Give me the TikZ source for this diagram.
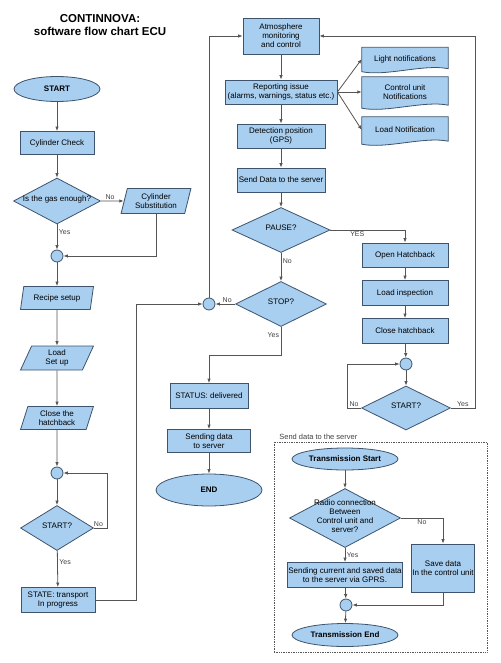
\documentclass[tikz,border=0pt]{standalone}
\usepackage{fontspec}
\setmainfont{Liberation Sans}
\usetikzlibrary{shapes.geometric, arrows.meta, backgrounds}
\definecolor{flowblue}{RGB}{168,206,240}
\definecolor{edgeblue}{RGB}{62,84,110}
\definecolor{linegray}{RGB}{85,85,85}
\newcommand{\dtext}[1]{\raisebox{-2pt}{\makebox[0pt]{\smash{\begin{tabular}{@{}c@{}}#1\end{tabular}}}}}

\tikzset{
    base/.style={draw=edgeblue, fill=flowblue, line width=.8pt, font=\fontsize{8}{9}\selectfont, align=center, inner sep=1pt},
    wh/.style 2 args={minimum width=#1pt, minimum height=#2pt},
    box/.style={base, rectangle},
    term/.style={base, ellipse, font=\fontsize{8}{9}\selectfont\bfseries},
    para/.style={base, trapezium, trapezium left angle=73, trapezium right angle=107, trapezium stretches=true, inner sep=0pt},
    dec/.style={base, diamond, inner sep=0pt},
    joint/.style={base, circle, minimum size=12pt, inner sep=0pt},
    docbox/.style={font=\fontsize{8}{9}\selectfont, align=center, inner sep=1pt},
    flow/.style={draw=linegray, line width=.8pt, -{Latex[length=4.5pt,width=3.5pt]}},
    lbl/.style={font=\fontsize{7}{8}\selectfont, text=black!75, inner sep=1.5pt},
}

\begin{document}
\begin{tikzpicture}[x=1pt, y=-1pt]
    \useasboundingbox (0,0) rectangle (500,663);

    \node[font=\fontsize{11.5}{13.5}\selectfont\bfseries, align=center] (title) at (100,25) {CONTINNOVA:\\software flow chart ECU};

    % left column
    \node[term, wh={86}{25}] (start) at (57,89) {START};
    \node[box, wh={74}{23}] (cyl) at (57,143) {Cylinder Check};
    \node[dec, wh={87}{46}] (gas) at (57,201) {\dtext{Is the gas enough?}};
    \node[para, wh={70}{25}] (subst) at (156,201) {Cylinder\\Substitution};
    \node[joint] (j1) at (57,256) {};
    \node[para, wh={73}{23}] (recipe) at (57,298) {Recipe setup};
    \node[para, wh={73}{24}] (loadset) at (57,358) {Load\\Set up};
    \node[para, wh={73}{23}] (closea) at (57,418) {Close the\\hatchback};
    \node[joint] (j2) at (57,473) {};
    \node[dec, wh={73}{45}] (starta) at (57,528) {\dtext{START?}};
    \node[box, wh={74}{25}] (state) at (58,600) {STATE: transport\\In progress};

    % middle column
    \node[joint] (j3) at (209,304) {};
    \node[box, wh={76}{36}] (atmo) at (281,36) {Atmosphere\\monitoring\\and control};
    \node[box, wh={112}{24}] (report) at (281,92) {Reporting issue\\(alarms, warnings, status etc.)};
    \node[box, wh={88}{24}] (detect) at (281,136) {Detection position\\(GPS)};
    \node[box, wh={88}{24}] (send) at (281,180) {Send Data to the server};
    \node[dec, wh={98}{45}] (pause) at (281,230) {\dtext{PAUSE?}};
    \node[dec, wh={91}{45}] (stop) at (281,304) {\dtext{STOP?}};
    \node[box, wh={78}{25}] (status) at (209,396) {STATUS: delivered};
    \node[box, wh={83}{23}] (sendsrv) at (209,441) {Sending data\\to server};
    \node[term, wh={106}{32}] (endn) at (209,490) {END};

    % notifications
    \node[docbox, wh={86}{23}] (light) at (405,59) {Light notifications};
    \node[docbox, wh={86}{30}] (ctrl) at (405,92) {Control unit\\Notifications};
    \node[docbox, wh={86}{26}] (loadn) at (405,130) {Load Notification};
    \begin{scope}[on background layer]
        \foreach \n in {light, ctrl, loadn}
            \draw[draw=edgeblue, fill=flowblue, line width=.8pt] (\n.north west) -- (\n.north east) -- ([yshift=2pt]\n.south east)
                .. controls +(-24pt,5pt) and +(24pt,-5pt) .. ([yshift=-1pt]\n.south west) -- cycle;
    \end{scope}

    % right column
    \node[box, wh={86}{24}] (openh) at (405,255) {Open Hatchback};
    \node[box, wh={86}{25}] (inspect) at (405,293) {Load inspection};
    \node[box, wh={86}{25}] (closeb) at (405,331) {Close hatchback};
    \node[joint] (j4) at (406,364) {};
    \node[dec, wh={89}{44}] (startb) at (406,408) {\dtext{START?}};

    % send data to the server
    \node[draw=linegray, densely dotted, line width=.7pt, minimum width=213pt, minimum height=210pt, inner sep=0pt] (frame) at (380.5,547) {};
    \node[lbl, font=\fontsize{7.5}{8}\selectfont, anchor=south west, xshift=4pt] (framelbl) at (frame.north west) {Send data to the server};
    \node[term, wh={106}{22}] (tstart) at (345,459) {Transmission Start};
    \node[dec, wh={111}{59}] (radio) at (345,518) {\dtext{Radio connection\\Between\\Control unit and\\server?}};
    \node[box, wh={62}{48}] (save) at (443,568) {Save data\\In the control unit};
    \node[box, wh={113}{25}] (gprs) at (345,575) {Sending current and saved data\\to the server via GPRS.};
    \node[joint] (j5) at (346,605) {};
    \node[term, wh={106}{23}] (tend) at (345,635) {Transmission End};

    % connectors, left
    \draw[flow] (start) -- (cyl);
    \draw[flow] (cyl) -- (gas);
    \draw[flow] (gas) -- node[lbl, above, pos=.4] {No} (subst);
    \draw[flow] (subst.south) |- (j1);
    \draw[flow] (gas) -- node[lbl, right, pos=.3] {Yes} (j1);
    \draw[flow] (j1) -- (recipe);
    \draw[flow] (recipe) -- (loadset);
    \draw[flow] (loadset) -- (closea);
    \draw[flow] (closea) -- (j2);
    \draw[flow] (j2) -- (starta);
    \draw[flow] (starta.east) -- node[lbl, above, pos=.35] {No} ++(13,0) |- (j2);
    \draw[flow] (starta) -- node[lbl, right, pos=.3] {Yes} (state);
    \draw[flow] (state.east) -- ++(41,0) |- (j3);

    % connectors, middle
    \draw[flow] (j3) |- (atmo);
    \draw[flow] (atmo) -- (report);
    \draw[flow] (report.east) -- (light.west);
    \draw[flow] (report.east) -- (ctrl.west);
    \draw[flow] (report.east) -- (loadn.west);
    \draw[flow] (report) -- (detect);
    \draw[flow] (detect) -- (send);
    \draw[flow] (send) -- (pause);
    \draw[flow] (pause.east) -| node[lbl, below, pos=.18] {YES} (openh);
    \draw[flow] (pause) -- node[lbl, right, pos=.3] {No} (stop);
    \draw[flow] (stop) -- node[lbl, above, pos=.4] {No} (j3);
    \draw[flow] (stop.south) -- node[lbl, left, pos=.3] {Yes} ++(0,28) -| (status);
    \draw[flow] (status) -- (sendsrv);
    \draw[flow] (sendsrv) -- (endn);

    % connectors, right
    \draw[flow] (openh) -- (inspect);
    \draw[flow] (inspect) -- (closeb);
    \draw[flow] (closeb) -- (j4);
    \draw[flow] (j4) -- (startb);
    \draw[flow] (startb.west) -- node[lbl, above] {No} ++(-14,0) |- (j4);
    \draw[flow] (startb.east) -- node[lbl, above] {Yes} ++(24,0) |- (atmo);

    % connectors, transmission
    \draw[flow] (tstart) -- (radio);
    \draw[flow] (radio.east) -| node[lbl, below, pos=.25] {No} (save);
    \draw[flow] (radio) -- node[lbl, right, pos=.5] {Yes} (gprs);
    \draw[flow] (gprs) -- (j5);
    \draw[flow] (save.south) |- (j5);
    \draw[flow] (j5) -- (tend);
\end{tikzpicture}
\end{document}
